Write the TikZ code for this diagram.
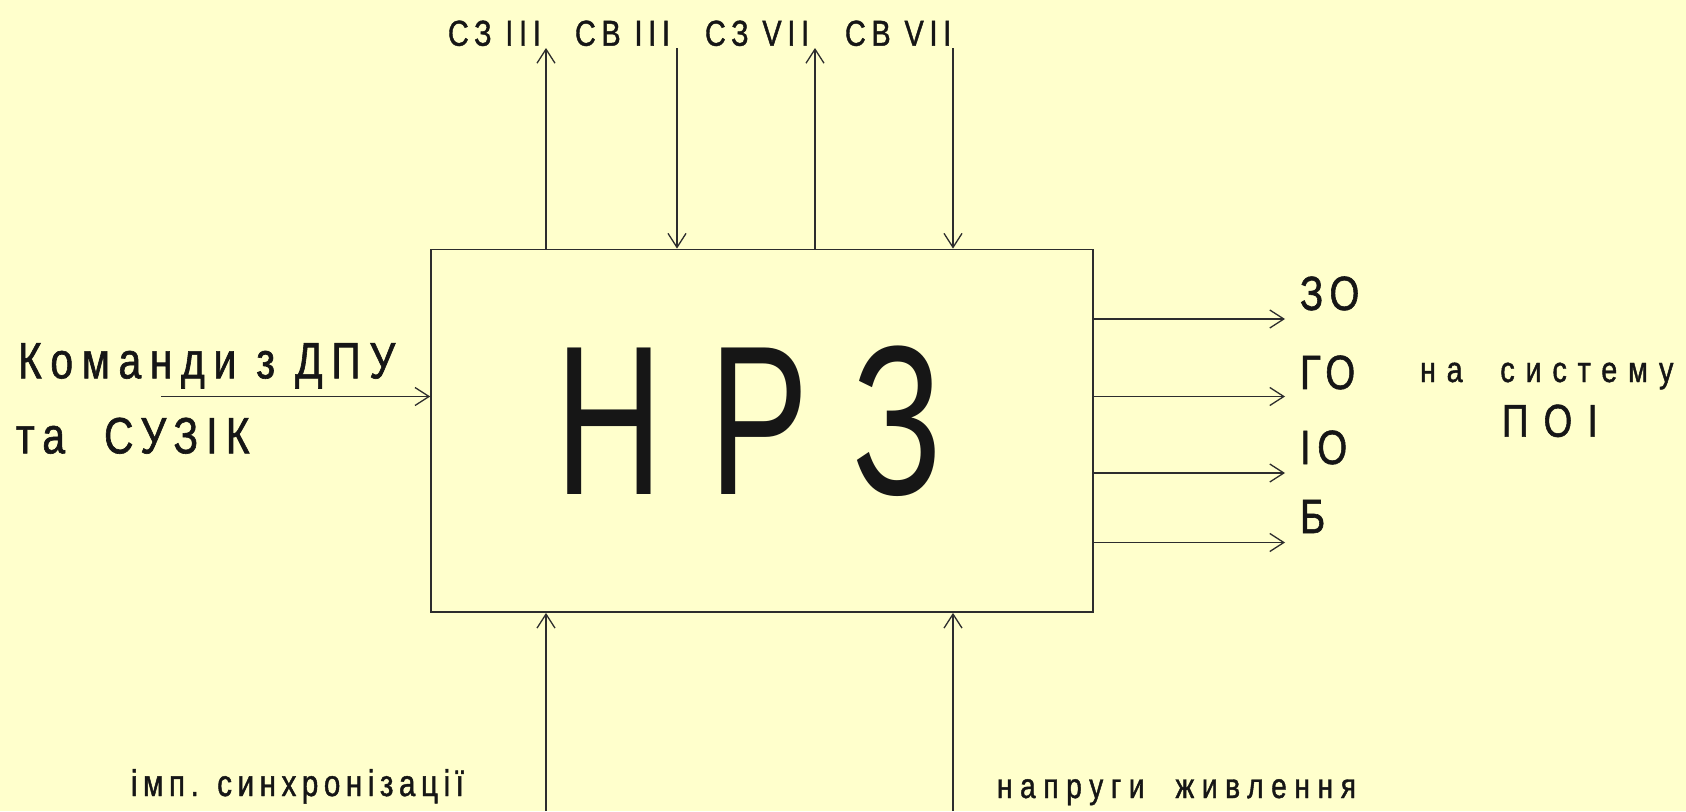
\documentclass[tikz,border=0pt]{standalone}
\usepackage{fontspec}
\setmainfont{Liberation Sans}
% narrow, widely spaced lettering
\newfontfamily\nf[FakeStretch=0.8,FakeBold=1.2]{Liberation Sans}
\newfontfamily\bigf[FakeStretch=0.7]{Liberation Sans}
\usetikzlibrary{arrows.meta}
\definecolor{paper}{RGB}{255,255,204}
\definecolor{ink}{RGB}{22,22,22}
\definecolor{wire}{RGB}{45,45,45}
\newcommand\lab[2]{\nf\fontsize{#1}{#1}\selectfont\addfontfeatures{LetterSpace=#2}}
\newcommand\biglab[2]{\bigf\fontsize{#1}{#1}\selectfont\addfontfeatures{LetterSpace=#2}}

\begin{document}
\begin{tikzpicture}[x=1pt,y=-1pt,
  txt/.style={inner sep=0pt, outer sep=0pt, anchor=base west, text=ink},
  arr/.style={draw=wire, line width=1.3pt, -{Straight Barb[length=14pt,width=18pt]}}]
\fill[paper] (0,0) rectangle (1686,811);
\useasboundingbox (0,0) rectangle (1686,811);

% main block
\node[draw=wire, line width=1.6pt, minimum width=661.7pt, minimum height=362.7pt,
      inner sep=0pt, fill=paper] (box) at (761.85,430.75) {};
\node[txt, font=\biglab{213}{22}] (nrz) at (555,494) {НРЗ};

% top signals
\coordinate (t1) at (546,48);
\coordinate (t2) at (677,48);
\coordinate (t3) at (815,48);
\coordinate (t4) at (953,48);
\draw[arr] (t1 |- box.north) -- (t1);
\draw[arr] (t2) -- (t2 |- box.north);
\draw[arr] (t3 |- box.north) -- (t3);
\draw[arr] (t4) -- (t4 |- box.north);
\node[txt, font=\lab{36}{16}] (s1) at (448,45.7) {СЗ III};
\node[txt, font=\lab{36}{16}] (s2) at (575,45.7) {СВ III};
\node[txt, font=\lab{36}{16}] (s3) at (705,45.7) {СЗ VII};
\node[txt, font=\lab{36}{16}] (s4) at (845,45.7) {СВ VII};

% commands input
\coordinate (l0) at (161,396.5);
\draw[arr] (l0) -- (l0 -| box.west);
\node[txt, font=\lab{51}{17}] (cmd1) at (18,378.3) {Команди з ДПУ};
\node[txt, font=\lab{51}{16}] (cmd2) at (16,453.3) {та\ \ СУЗІК};

% outputs
\coordinate (r1) at (1285,319);
\coordinate (r2) at (1285,396.5);
\coordinate (r3) at (1285,473);
\coordinate (r4) at (1285,542.5);
\foreach \r in {r1,r2,r3,r4} \draw[arr] (box.east |- \r) -- (\r);
\node[txt, font=\lab{48}{14}] (o1) at (1300,310) {ЗО};
\node[txt, font=\lab{48}{14}] (o2) at (1300,389) {ГО};
\node[txt, font=\lab{48}{14}] (o3) at (1300,464) {ІО};
\node[txt, font=\lab{48}{14}] (o4) at (1300,533) {Б};
\node[txt, font=\lab{36}{30}] (dst1) at (1420,382) {на\ \ систему};
\node[txt, font=\lab{46}{33}] (dst2) at (1502,436.7) {ПОІ};

% bottom inputs
\coordinate (b1) at (546,811);
\coordinate (b2) at (953,811);
\draw[arr] (b1) -- (b1 |- box.south);
\draw[arr] (b2) -- (b2 |- box.south);
\node[txt, font=\lab{37}{15}] (sync) at (131,796) {імп. синхронізації};
\node[txt, font=\lab{35}{22}] (pwr) at (997,798) {напруги\ \ живлення};
\end{tikzpicture}
\end{document}
